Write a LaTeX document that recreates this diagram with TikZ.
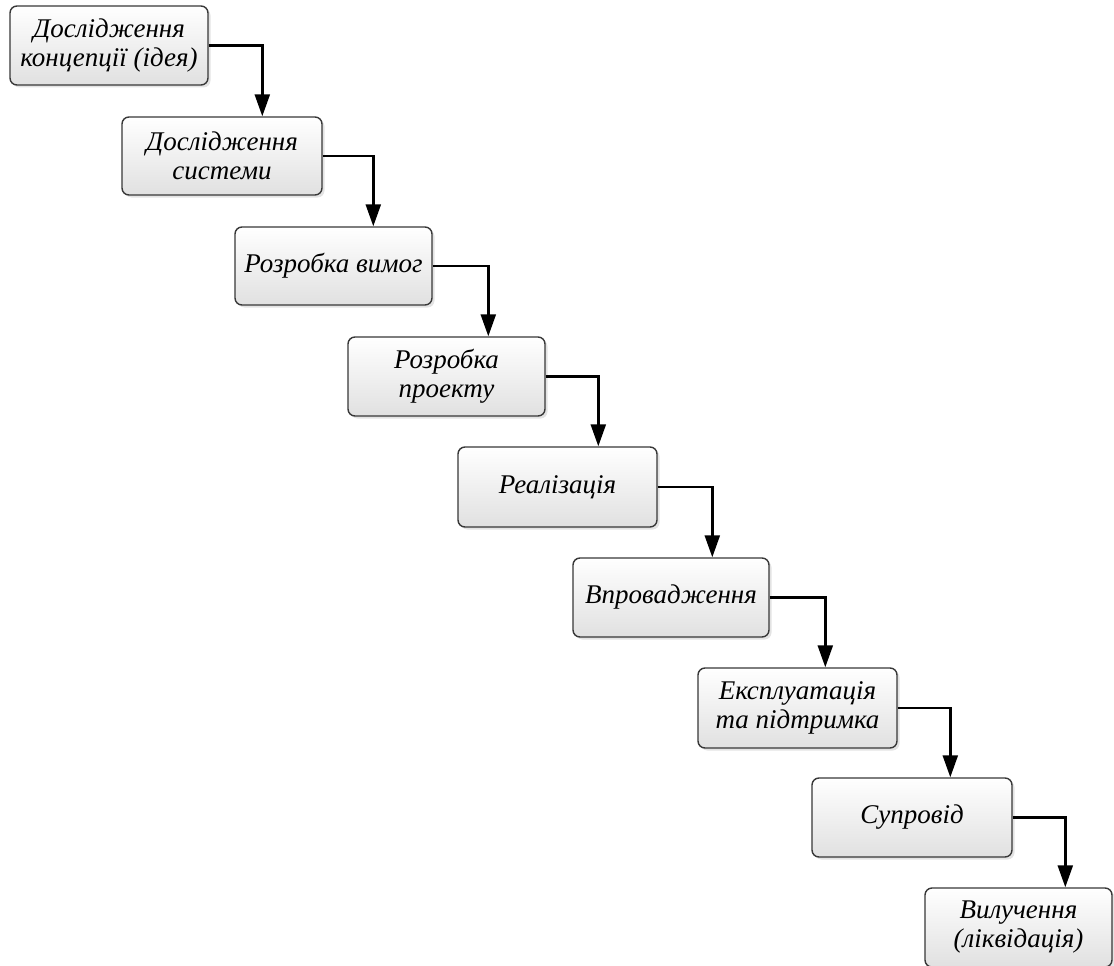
\documentclass[tikz,border=0pt]{standalone}
\usepackage{fontspec}
\setmainfont{Liberation Serif}
\usetikzlibrary{arrows.meta,calc,shadows}
\begin{document}
\begin{tikzpicture}[x=1pt,y=-1pt,
  stage/.style={draw=black!78, line width=1.4pt, rounded corners=7pt,
    top color=white, bottom color=black!12, inner sep=0pt, align=center,
    font=\fontsize{27}{29}\selectfont\itshape,
    drop shadow={shadow xshift=2.5pt, shadow yshift=-2.5pt, fill=black!18, opacity=0.6}},
  flow/.style={draw=black, line width=2.4pt, -{Triangle[length=22pt,width=15pt]}}]
\useasboundingbox (0,0) rectangle (1114,966);
% stages, placed by their corners
\node[stage, minimum width=198pt, minimum height=79pt] (b1) at (109,45.5)
  {Дослідження\\концепції (ідея)};
\node[stage, minimum width=200pt, minimum height=78pt] (b2) at (222,156)
  {Дослідження\\системи};
\node[stage, minimum width=197pt, minimum height=78pt] (b3) at (333.5,266)
  {Розробка вимог};
\node[stage, minimum width=197pt, minimum height=79pt] (b4) at (446.5,376.5)
  {Розробка\\проекту};
\node[stage, minimum width=199pt, minimum height=80pt] (b5) at (557.5,487)
  {Реалізація};
\node[stage, minimum width=196pt, minimum height=79pt] (b6) at (671,597.5)
  {Впровадження};
\node[stage, minimum width=199pt, minimum height=80pt] (b7) at (797.5,708)
  {Експлуатація\\та підтримка};
\node[stage, minimum width=200pt, minimum height=79pt] (b8) at (912,817.5)
  {Супровід};
\node[stage, minimum width=187pt, minimum height=79pt] (b9) at (1018.5,927.5)
  {Вилучення\\(ліквідація)};
% step connectors: right side of one stage down onto the next
\draw[flow] (b1.east) -| ($(b2.north west)+(141,0)$);
\draw[flow] (b2.east) -| ($(b3.north west)+(139,0)$);
\draw[flow] (b3.east) -| ($(b4.north west)+(141,0)$);
\draw[flow] (b4.east) -| ($(b5.north west)+(141,0)$);
\draw[flow] (b5.east) -| ($(b6.north west)+(140,0)$);
\draw[flow] (b6.east) -| ($(b7.north west)+(128,0)$);
\draw[flow] (b7.east) -| ($(b8.north west)+(139,0)$);
\draw[flow] (b8.east) -| ($(b9.north west)+(141,0)$);
\end{tikzpicture}
\end{document}
